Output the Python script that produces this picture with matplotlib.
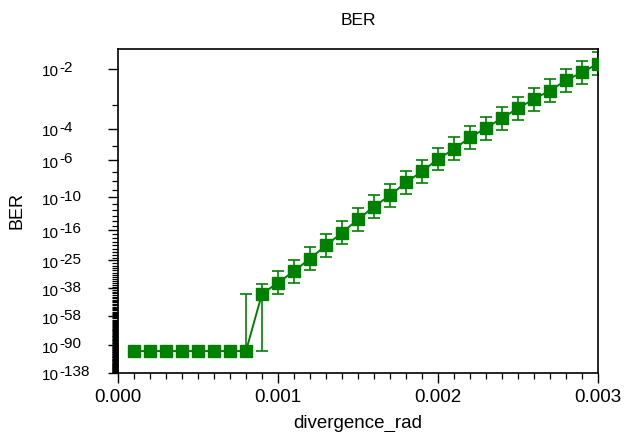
import math

import matplotlib
matplotlib.use("Agg")
import matplotlib.pyplot as plt
import matplotlib.transforms as mtransforms
import numpy as np
from matplotlib.ticker import FixedLocator, FuncFormatter, NullFormatter

plt.rcParams["font.family"] = ["Liberation Sans", "DejaVu Sans"]

GREEN = "#008000"

# divergence sweep (rad) and BER, as log10(BER)
divergence = [0.0001, 0.0002, 0.0003, 0.0004, 0.0005, 0.0006, 0.0007, 0.0008,
              0.0009, 0.0010, 0.0011, 0.0012, 0.0013, 0.0014, 0.0015, 0.0016,
              0.0017, 0.0018, 0.0019, 0.0020, 0.0021, 0.0022, 0.0023, 0.0024,
              0.0025, 0.0026, 0.0027, 0.0028, 0.0029, 0.0030]
log_ber = [-98.8, -98.8, -98.8, -98.8, -98.8, -98.8, -98.8, -98.8,
           -41.2, -34.9, -29.3, -24.3, -20.0, -16.6, -13.7, -11.4,
           -9.72, -8.12, -6.99, -5.92, -5.19, -4.47, -3.97, -3.51,
           -3.12, -2.80, -2.54, -2.27, -2.08, -1.90]
log_ber_max = [-98.8, -98.8, -98.8, -98.8, -98.8, -98.8, -98.8, -41.2,
               -35.3, -29.4, -24.7, -20.5, -16.9, -14.1, -11.65, -9.69,
               -8.29, -6.94, -5.99, -5.09, -4.47, -3.87, -3.45, -3.06,
               -2.72, -2.46, -2.24, -2.01, -1.84, -1.69]
log_ber_min = [-98.8, -98.8, -98.8, -98.8, -98.8, -98.8, -98.8, -98.8,
               -98.8, -41.5, -34.8, -28.8, -23.7, -19.7, -16.2, -13.4,
               -11.4, -9.52, -8.17, -6.90, -6.03, -5.19, -4.59, -4.05,
               -3.58, -3.21, -2.90, -2.58, -2.35, -2.15]

major_exp = [2, 4, 6, 10, 16, 25, 38, 58, 90, 138]
minor_exp = list(range(1, 139))
x_major = [0.0, 0.001, 0.002, 0.003]

_erfc = np.frompyfunc(math.erfc, 1, 1)
_SQRT2 = math.sqrt(2.0)


def ber_to_q(ber):
    ber = np.clip(np.asarray(ber, dtype=float), 1e-300, 0.49)
    lo = np.zeros_like(ber)
    hi = np.full_like(ber, 40.0)
    for _ in range(70):
        mid = 0.5 * (lo + hi)
        val = 0.5 * _erfc(mid / _SQRT2).astype(float)
        above = val > ber
        lo = np.where(above, mid, lo)
        hi = np.where(above, hi, mid)
    return 0.5 * (lo + hi)


def forward(ber):
    # Q-factor style axis: -ln(Q(BER))
    return -np.log(ber_to_q(ber))


def inverse(t):
    q = np.exp(-np.asarray(t, dtype=float))
    return 0.5 * _erfc(q / _SQRT2).astype(float)


x = np.array(divergence)
y = 10.0 ** np.array(log_ber)
y_lo = 10.0 ** np.array(log_ber_min)
y_hi = 10.0 ** np.array(log_ber_max)

fig = plt.figure(figsize=(6.36, 4.32), dpi=100)
ax = fig.add_axes([0.1855, 0.1373, 0.7548, 0.7493])
ax.set_yscale("function", functions=(forward, inverse))

# error bars drawn as min/max whiskers with caps
ax.vlines(x, y_lo, y_hi, color=GREEN, lw=1.2, zorder=2)
ax.plot(x, y_lo, ls="none", marker="_", ms=8, mew=1.2, color=GREEN, zorder=2)
ax.plot(x, y_hi, ls="none", marker="_", ms=8, mew=1.2, color=GREEN, zorder=2)
ax.plot(x, y, color=GREEN, lw=1.4, marker="s", ms=8.5, mec=GREEN,
        mfc=GREEN, zorder=3)

ax.set_ylim(1e-138, 0.023)
ax.set_xlim(0, 0.003)

ax.yaxis.set_major_locator(FixedLocator([10.0 ** -e for e in major_exp]))
ax.yaxis.set_minor_locator(FixedLocator([10.0 ** -e for e in minor_exp
                                         if e not in major_exp]))
ax.yaxis.set_major_formatter(NullFormatter())
ax.yaxis.set_minor_formatter(NullFormatter())

ax.xaxis.set_major_locator(FixedLocator(x_major))
ax.xaxis.set_minor_locator(FixedLocator(x))
ax.xaxis.set_major_formatter(FuncFormatter(lambda v, p: "%.3f" % v))

ax.tick_params(which="major", direction="out", length=7, width=1.0,
               labelsize=13.5, colors="black")
ax.tick_params(which="minor", direction="out", length=4, width=0.9)
ax.tick_params(axis="x", pad=5)
for s in ax.spines.values():
    s.set_linewidth(1.2)

# y labels: "10" followed by a full-size raised exponent, left aligned
lab_tr = mtransforms.blended_transform_factory(fig.transFigure, ax.transData)
base_tr = mtransforms.offset_copy(lab_tr, fig=fig, y=-2.7, units="points")
sup_tr = mtransforms.offset_copy(lab_tr, fig=fig, y=0.5, units="points")
for e in major_exp:
    v = 10.0 ** -e
    ax.text(42 / 636, v, "10", transform=base_tr, ha="left", va="center",
            fontsize=11, clip_on=False)
    ax.text(59 / 636, v, "-%d" % e, transform=sup_tr, ha="left",
            va="center", fontsize=11, clip_on=False)

ax.set_title("BER", fontsize=12.5, pad=17)
ax.set_xlabel("divergence_rad", fontsize=13.5, labelpad=6)
ax.set_ylabel("BER", fontsize=13)
ax.yaxis.set_label_coords(-0.193, 0.5)

fig.savefig("out.png", dpi=100)
